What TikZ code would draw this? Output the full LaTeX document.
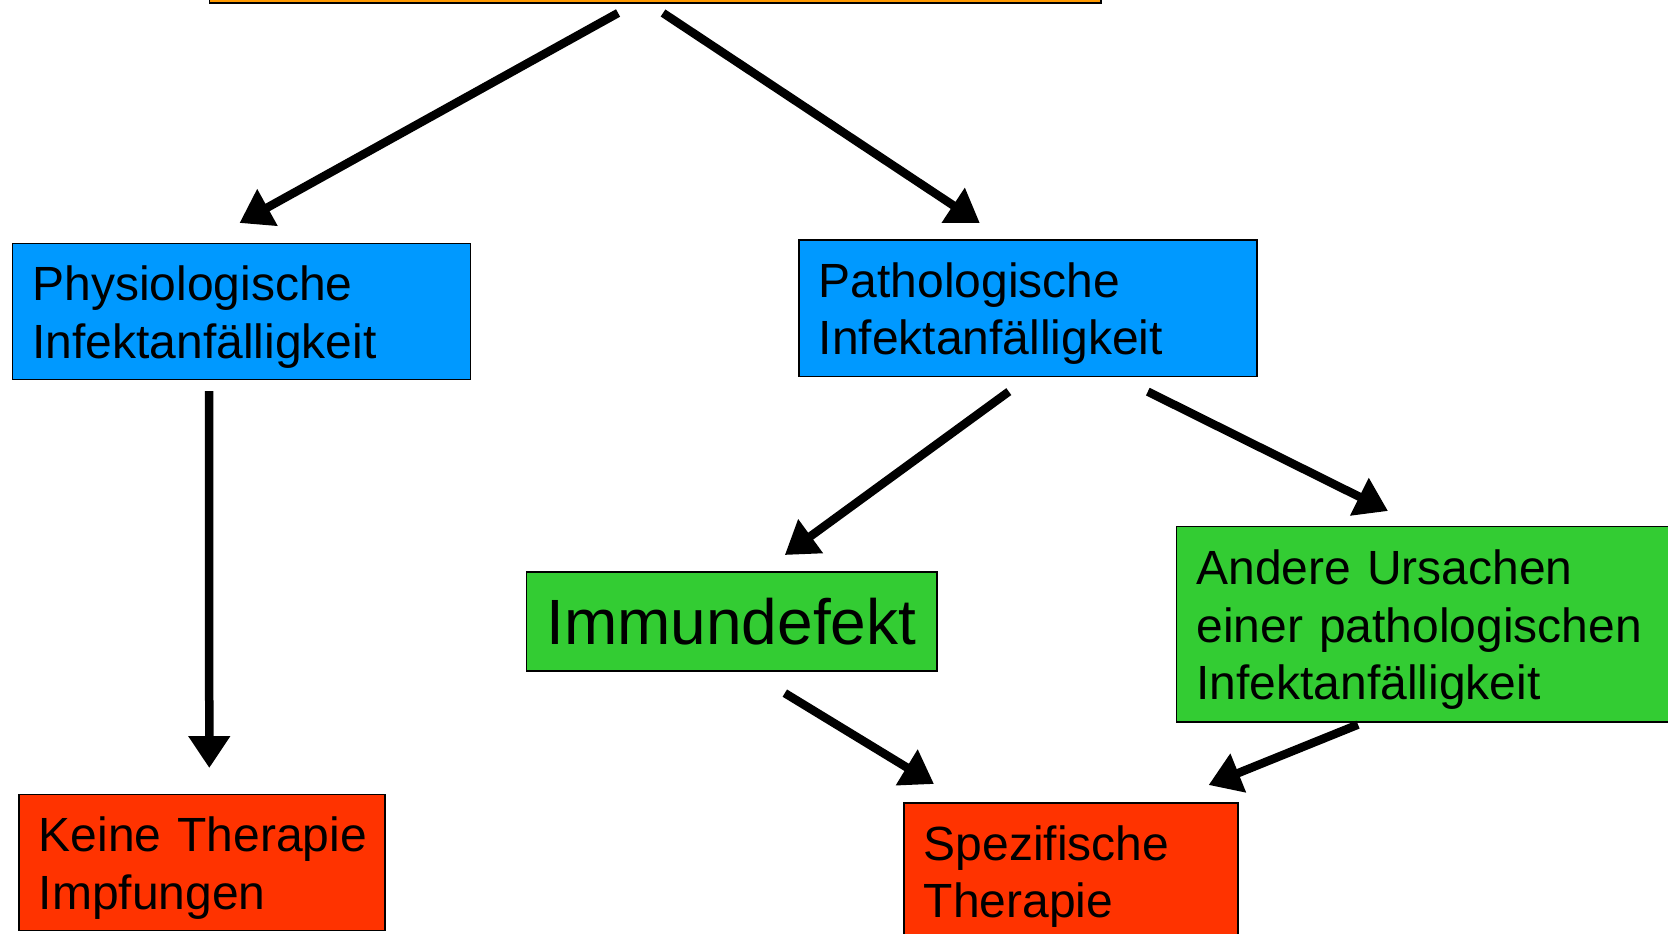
\documentclass[tikz,border=0pt]{standalone}
\usepackage{fontspec}
\setmainfont{Liberation Sans}
\usetikzlibrary{arrows.meta,calc}
\definecolor{boxorange}{RGB}{255,153,0}
\definecolor{boxblue}{RGB}{0,153,255}
\definecolor{boxgreen}{RGB}{51,204,51}
\definecolor{boxred}{RGB}{255,51,0}

\begin{document}
\begin{tikzpicture}[x=0.5pt, y=-0.5pt,
  box/.style={draw=black, line width=0.8pt, anchor=north west, align=left,
              inner xsep=10pt, inner ysep=0pt, font=\fontsize{24}{28.8}\selectfont,
              execute at begin node={\rule{0pt}{23pt}}},
  physio/.style={box, fill=boxblue},
  cause/.style={box, fill=boxgreen},
  therapy/.style={box, fill=boxred},
  arr/.style={line width=4.25pt, -{Triangle[length=16pt, width=20pt]}},
]
\useasboundingbox (0,0) rectangle (1668,933);

\node[box, fill=boxorange, anchor=south west, minimum width=445.75pt, minimum height=60pt,
      execute at begin node={}] (top) at (208.5,3.5) {};

\node[physio, text width=209pt, minimum height=68pt] (phys) at (11.7,242.5) {Physiologische\\Infektanfälligkeit};
\node[physio, text width=209pt, minimum height=68.25pt] (path) at (798,239) {Pathologische\\Infektanfälligkeit};

\node[cause, text width=185.25pt, minimum height=49.5pt, font=\fontsize{32}{38}\selectfont,
      execute at begin node={}] (immun) at (525.5,571) {Immundefekt};
\node[cause, text width=280pt, minimum height=97.75pt] (andere) at (1175.5,525.5) {\mbox{Andere Ursachen}\\\mbox{einer pathologischen}\\Infektanfälligkeit};

\node[therapy, text width=163pt, minimum height=68pt] (keine) at (18,793.6) {\mbox{Keine Therapie}\\Impfungen};
\node[therapy, text width=147pt, minimum height=68pt] (spez) at (903,802) {Spezifische\\Therapie};

% arrows
\draw[arr] ($(top.south)+(-37,9.5)$) -- ($(phys.north)+(-2,-19.5)$);
\draw[arr] ($(top.south)+(8,9.5)$) -- ($(path.north)+(-48,-16)$);
\draw[arr] ($(phys.south)+(-32.5,11)$) -- ($(keine.north)+(7.5,-25.6)$);
\draw[arr] ($(path.south)+(-19,14.5)$) -- ($(immun.north)+(53.25,-16)$);
\draw[arr] ($(path.south)+(120,14.5)$) -- ($(andere.north west)+(212.5,-14.5)$);
\draw[arr] ($(immun.south)+(53.25,21.5)$) -- ($(spez.north west)+(31,-18)$);
\draw[arr] ($(andere.south west)+(182.5,2)$) -- ($(spez.north east)+(-30,-17)$);
\end{tikzpicture}
\end{document}
